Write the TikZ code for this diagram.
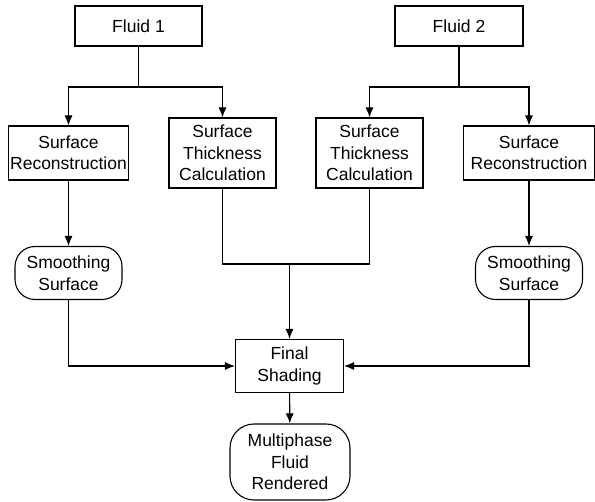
\documentclass[tikz,border=0pt]{standalone}
\usepackage{fontspec}
\setmainfont{Liberation Sans}
\usetikzlibrary{arrows.meta}

\begin{document}
\begin{tikzpicture}[x=1pt,y=-1pt,->,>={Latex[length=10pt,width=8pt]},
                    line width=1.1pt,
                    every node/.style={font=\fontsize{17.5}{21.5}\selectfont,
                                       align=center,inner sep=0pt},
                    proc/.style={draw,rectangle},
                    term/.style={draw,rectangle,rounded corners=20pt}]
  \useasboundingbox (0,0) rectangle (595,502);

  \path   (138.5, 26) node [proc,minimum width=127,minimum height=40] (fluid1) {Fluid 1}
          (459, 26)   node [proc,minimum width=128,minimum height=40] (fluid2) {Fluid 2}
          (68.5,153)  node [proc,minimum width=120,minimum height=54] (recon1) {Surface\\Reconstruction}
          (222.5,153) node [proc,minimum width=107,minimum height=70] (thick1) {Surface\\Thickness\\Calculation}
          (369.5,153) node [proc,minimum width=107,minimum height=70] (thick2) {Surface\\Thickness\\Calculation}
          (529,153)   node [proc,minimum width=131,minimum height=54] (recon2) {Surface\\Reconstruction}
          (68.5,273)  node [term,minimum width=107,minimum height=53] (smooth1) {Smoothing\\Surface}
          (529,273)   node [term,minimum width=107,minimum height=53] (smooth2) {Smoothing\\Surface}
          (289.5,366) node [proc,minimum width=108,minimum height=53] (shade) {Final\\Shading}
          (290,462)   node [term,rounded corners=24pt,minimum width=120,minimum height=76] (render) {Multiphase\\Fluid\\Rendered};

  \coordinate (split1) at (138.5,87);
  \coordinate (split2) at (459,87);
  \coordinate (merge)  at (289.5,264);

  \draw [-] (fluid1) -- (split1);
  \draw [-] (fluid2) -- (split2);
  \draw (split1) -| (recon1);
  \draw (split1) -| (thick1);
  \draw (split2) -| (thick2);
  \draw (split2) -| (recon2);

  \draw (recon1) -- (smooth1);
  \draw (recon2) -- (smooth2);

  \draw [-] (thick1) |- (merge);
  \draw [-] (thick2) |- (merge);
  \draw (merge) -- (shade);

  \draw (smooth1) |- (shade);
  \draw (smooth2) |- (shade);
  \draw (shade) -- (render);
\end{tikzpicture}
\end{document}
